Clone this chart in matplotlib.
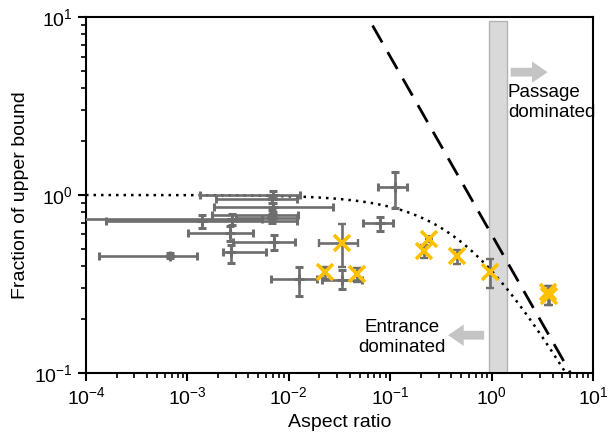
import numpy as np
import matplotlib
matplotlib.use("Agg")
import matplotlib.pyplot as plt

plt.rcParams["font.family"] = ["Liberation Sans", "DejaVu Sans"]
plt.rcParams["mathtext.fontset"] = "custom"
plt.rcParams["mathtext.rm"] = "Liberation Sans"
plt.rcParams["mathtext.it"] = "Liberation Sans:italic"
plt.rcParams["axes.unicode_minus"] = False

# gray points: centre, then lower / upper bounds of the error bars
gray_x = [6.7e-4, 1.38e-3, 2.74e-3, 2.63e-3, 2.7e-3, 7.2e-3, 0.0127, 0.0332, 0.111, 0.0794,
          7.0e-3, 6.9e-3, 7.0e-3, 6.8e-3, 6.9e-3]
gray_y = [0.454, 0.71, 0.73, 0.61, 0.481, 0.547, 0.336, 0.333, 1.11, 0.693,
          1.0, 0.946, 0.853, 0.773, 0.74]
gray_xlo = [1.35e-4, 1.56e-4, 5e-5, 1.02e-3, 2.26e-3, 2.84e-3, 6.67e-3, 0.0211, 0.0762, 0.0535,
            1.33e-3, 1.91e-3, 1.83e-3, 1.73e-3, 3.0e-3]
gray_xhi = [1.24e-3, 1.2e-2, 5.4e-3, 4.4e-3, 5.9e-3, 1.16e-2, 1.88e-2, 0.0524, 0.145, 0.107,
            1.29e-2, 1.2e-2, 2.75e-2, 1.24e-2, 1.2e-2]
gray_ylo = [0.44, 0.65, 0.68, 0.55, 0.417, 0.49, 0.272, 0.295, 0.84, 0.628,
            0.96, 0.9, 0.8, 0.73, 0.70]
gray_yhi = [0.47, 0.77, 0.78, 0.67, 0.525, 0.596, 0.395, 0.379, 1.35, 0.755,
            1.06, 0.99, 0.9, 0.82, 0.78]

# yellow crosses with their gray error bars
yel_x = [0.0227, 0.0332, 0.0467, 0.243, 0.217, 0.452, 0.964, 3.62, 3.7]
yel_y = [0.371, 0.539, 0.358, 0.563, 0.484, 0.454, 0.371, 0.285, 0.27]
yel_xlo = [0.0227, 0.020, 0.0467, 0.243, 0.217, 0.452, 0.964, 3.62, 3.7]
yel_xhi = [0.0227, 0.0484, 0.0467, 0.243, 0.217, 0.452, 0.964, 3.62, 3.7]
yel_ylo = [0.336, 0.395, 0.326, 0.563, 0.44, 0.408, 0.299, 0.24, 0.24]
yel_yhi = [0.395, 0.684, 0.389, 0.563, 0.524, 0.491, 0.436, 0.31, 0.31]

fig = plt.figure(figsize=(6.11, 4.32), dpi=100)
ax = fig.add_axes([0.1408, 0.1366, 0.8297, 0.824])
ax.set_xscale("log")
ax.set_yscale("log")
ax.set_xlim(1e-4, 10)
ax.set_ylim(0.1, 10)

# shaded band near aspect ratio 1
ax.fill_between([0.94, 1.42], 0.1, 9.5, color="#d9d9d9", edgecolor="#b4b4b4", lw=1, zorder=1)

# model curves
xs = np.logspace(-4, 1, 400)
ax.plot(xs, 1 / (1 + 1.67 * xs), color="black", ls=(0, (1, 2)), lw=1.8, zorder=2)
ax.plot(xs, 0.6 / xs, color="black", ls=(0, (7, 4)), lw=2, zorder=2)

gx, gy = np.array(gray_x), np.array(gray_y)
ax.errorbar(gx, gy,
            xerr=[gx - np.array(gray_xlo), np.array(gray_xhi) - gx],
            yerr=[gy - np.array(gray_ylo), np.array(gray_yhi) - gy],
            fmt="+", color="#6e6e6e", ms=7, mew=2.2, elinewidth=1.9, capsize=3, capthick=1.7, zorder=3)

yx, yy = np.array(yel_x), np.array(yel_y)
ax.errorbar(yx, yy,
            xerr=[yx - np.array(yel_xlo), np.array(yel_xhi) - yx],
            yerr=[yy - np.array(yel_ylo), np.array(yel_yhi) - yy],
            fmt="none", ecolor="#6e6e6e", elinewidth=1.9, capsize=3, capthick=1.7, zorder=3)
ax.plot(yx, yy, "x", color="#FFC000", ms=11, mew=2.6, zorder=4)

# annotations
arrow = dict(arrowstyle="simple,head_length=0.8,head_width=1.1,tail_width=0.45",
             color="#c4c4c4", lw=0, mutation_scale=14)
ax.annotate("", xy=(3.8, 4.9), xytext=(1.45, 4.9), arrowprops=arrow, zorder=5)
ax.annotate("", xy=(0.35, 0.163), xytext=(0.9, 0.163), arrowprops=arrow, zorder=5)
ax.text(1.45, 3.3, "Passage\ndominated", ha="left", va="center", fontsize=13.5, linespacing=1.25)
ax.text(0.1306, 0.158, "Entrance\ndominated", ha="center", va="center", fontsize=13.5, linespacing=1.25)

ax.set_xlabel("Aspect ratio", fontsize=14)
ax.set_ylabel("Fraction of upper bound", fontsize=14)

for s in ax.spines.values():
    s.set_linewidth(1.5)
ax.tick_params(which="major", length=6, width=1.5, labelsize=14, direction="out")
ax.tick_params(which="minor", length=3.5, width=1.2, direction="out")
ax.xaxis.set_minor_locator(matplotlib.ticker.LogLocator(base=10, subs=np.arange(2, 10)))
ax.yaxis.set_minor_locator(matplotlib.ticker.LogLocator(base=10, subs=np.arange(2, 10)))
ax.xaxis.set_minor_formatter(matplotlib.ticker.NullFormatter())
ax.yaxis.set_minor_formatter(matplotlib.ticker.NullFormatter())

fig.savefig("out.png", dpi=100)
